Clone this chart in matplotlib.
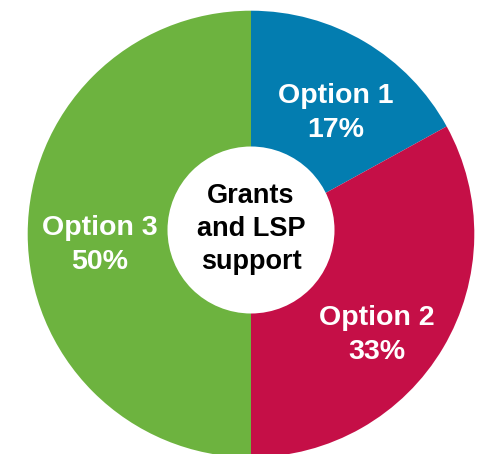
import matplotlib.pyplot as plt
from matplotlib.patches import Circle

plt.rcParams['font.family'] = ['Liberation Sans', 'DejaVu Sans']

labels = ['Option 1', 'Option 2', 'Option 3']
shares = [17, 33, 50]
colors = ['#037DB0', '#C50F47', '#6DB33F']
centreText = 'Grants\nand LSP\nsupport'

# figure in pixels, pie placed by pixel geometry
W, H = 493, 454
cx, cy, R = 251, 234, 223.3
holeY, holeR = 230, 83.5

fig = plt.figure(figsize=(W/100, H/100), dpi=100)
ax = fig.add_axes([0, 0, 1, 1])

wedges, _ = ax.pie(
	shares,
	colors=colors,
	startangle=90,
	counterclock=False,
	radius=1,
	wedgeprops={'linewidth': 0}
)

ax.add_patch(Circle((0, (cy - holeY)/R), holeR/R, facecolor='white', edgecolor='none', zorder=3))

# label positions in pixels
labelPos = [(336, 113), (377, 335), (100, 245)]
for name, share, (px, py) in zip(labels, shares, labelPos):
	ax.text((px - cx)/R, (cy - py)/R, f'{name}\n{share}%', color='white',
		fontsize=20.5, fontweight='bold', ha='center', va='center', linespacing=1.4, zorder=4)

ax.text(0, (cy - 229)/R, centreText, color='black', fontsize=19.5, fontweight='bold',
	ha='center', va='center', linespacing=1.33, zorder=4)

ax.set_xlim(-cx/R, (W - cx)/R)
ax.set_ylim(-(H - cy)/R, cy/R)
ax.set_aspect('auto')
ax.axis('off')

fig.savefig('out.png', dpi=100, facecolor='white')
